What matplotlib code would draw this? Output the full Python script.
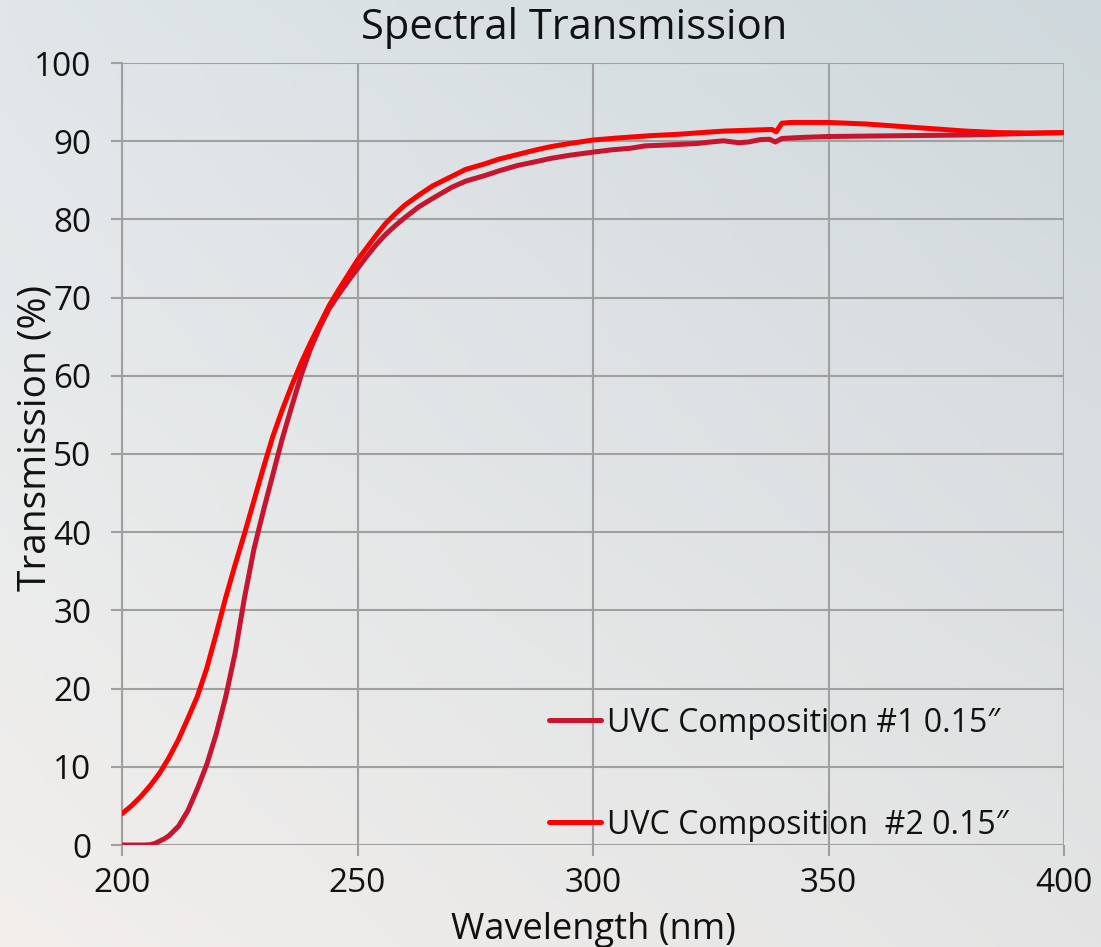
import numpy as np
import matplotlib
matplotlib.use("Agg")
import matplotlib.pyplot as plt

# ---- data ----
wl_1 = [200, 205, 206, 207, 208, 209, 210, 212, 214, 216, 218, 220, 222, 224, 226, 228, 230, 232,
        234, 236, 238, 240, 242, 244, 246, 248, 250, 252, 254, 256, 258, 260, 263, 266, 270, 273,
        277, 280, 284, 288, 291, 295, 300, 304, 308, 311, 315, 318.5, 322, 325, 327.7, 331, 333,
        335.5, 337.5, 338.7, 340.1, 345, 350, 365, 380, 393, 400]
tr_1 = [0, 0, 0.05, 0.2, 0.5, 0.8, 1.2, 2.4, 4.4, 7.2, 10.3, 14.2, 18.9, 24.5, 31.6, 37.8, 42.7, 47.3,
        51.9, 56.0, 60.0, 63.4, 66.2, 68.6, 70.4, 72.1, 73.7, 75.3, 76.8, 78.1, 79.2, 80.2, 81.6, 82.7,
        84.1, 84.9, 85.6, 86.2, 86.9, 87.4, 87.8, 88.2, 88.6, 88.9, 89.1, 89.4, 89.5, 89.6, 89.7, 89.9,
        90.05, 89.8, 89.9, 90.2, 90.25, 89.9, 90.35, 90.5, 90.6, 90.7, 90.8, 91.0, 91.1]

wl_2 = [200, 202, 204, 206, 208, 210, 212, 214, 216, 218, 220, 222, 224, 226, 228, 230, 232, 234,
        236, 238, 240, 242, 244, 246, 248, 250, 252, 254, 256, 258, 260, 263, 266, 270, 273, 277,
        280, 284, 288, 291, 295, 300, 305, 312, 318.5, 323, 328, 333, 338, 338.9, 340.1, 342, 350,
        358, 365, 372, 379, 386, 393, 400]
tr_2 = [4.0, 5.0, 6.2, 7.6, 9.2, 11.2, 13.5, 16.2, 19.0, 22.6, 27.0, 31.6, 35.8, 39.8, 44.0, 48.2,
        52.2, 55.6, 58.7, 61.6, 64.2, 66.6, 69.0, 71.0, 72.9, 74.8, 76.4, 78.0, 79.5, 80.7, 81.8,
        83.1, 84.3, 85.5, 86.4, 87.1, 87.7, 88.3, 88.9, 89.3, 89.7, 90.15, 90.4, 90.7, 90.9, 91.1,
        91.3, 91.4, 91.5, 91.2, 92.3, 92.4, 92.4, 92.2, 91.9, 91.6, 91.3, 91.1, 91.05, 91.1]

labels = ["UVC Composition #1 0.15\u2033", "UVC Composition  #2 0.15\u2033"]
colors = ["#c8142e", "#ff0000"]
x_ticks = [200, 250, 300, 350, 400]
y_ticks = list(range(0, 101, 10))

FONT = ["Open Sans", "DejaVu Sans"]
plt.rcParams['font.family'] = FONT

fig = plt.figure(figsize=(11.01, 9.47), dpi=100)

# background gradient
bg = fig.add_axes([0, 0, 1, 1], zorder=-10)
tl = np.array([224, 230, 233]) / 255
tr = np.array([207, 216, 220]) / 255
bl = np.array([242, 239, 237]) / 255
br = np.array([228, 228, 228]) / 255
u = np.linspace(0, 1, 200)[None, :, None]
v = np.linspace(0, 1, 200)[:, None, None]
img = (1 - v) * ((1 - u) * tl + u * tr) + v * ((1 - u) * bl + u * br)
bg.imshow(img, aspect='auto', extent=[0, 1, 0, 1], origin='upper')
bg.axis('off')

ax = fig.add_axes([122 / 1101, 1 - 845 / 947, (1064 - 122) / 1101, (845 - 63) / 947])
ax.set_facecolor('none')

ax.plot(wl_1, tr_1, color=colors[0], lw=3.6, solid_capstyle='round', solid_joinstyle='round',
        label=labels[0], zorder=3)
ax.plot(wl_2, tr_2, color=colors[1], lw=3.6, solid_capstyle='round', solid_joinstyle='round',
        label=labels[1], zorder=4)

ax.set_xlim(200, 400)
ax.set_ylim(0, 100)
ax.set_xticks(x_ticks)
ax.set_yticks(y_ticks)
ax.grid(True, color='#a0a0a0', lw=1.5)
ax.set_axisbelow(True)
for s in ['top', 'right', 'bottom']:
    ax.spines[s].set_visible(False)
ax.spines['left'].set_color('#a0a0a0')
ax.spines['left'].set_linewidth(1.5)
ax.tick_params(axis='both', colors='#a0a0a0', length=8, width=1.5, labelsize=24, labelcolor='#111111')
ax.tick_params(axis='x', pad=8)
ax.tick_params(axis='y', pad=14)

ax.set_xlabel("Wavelength (nm)", fontsize=26, color='#111111')
ax.xaxis.set_label_coords(0.5, -0.086)
ax.set_ylabel("Transmission (%)", fontsize=28, color='#111111')
ax.yaxis.set_label_coords(-0.072, 0.52)
fig.text(574 / 1101, 1 - 28 / 947, "Spectral Transmission", fontsize=30, ha='center', va='center',
         color='#111111')

leg = ax.legend(loc='lower left', bbox_to_anchor=(0.4397, -0.012), frameon=False, fontsize=23,
                handlelength=1.63, handletextpad=0.19, labelspacing=2.16, borderaxespad=0)
for t in leg.get_texts():
    t.set_color('#111111')

fig.savefig("out.png", dpi=100)
